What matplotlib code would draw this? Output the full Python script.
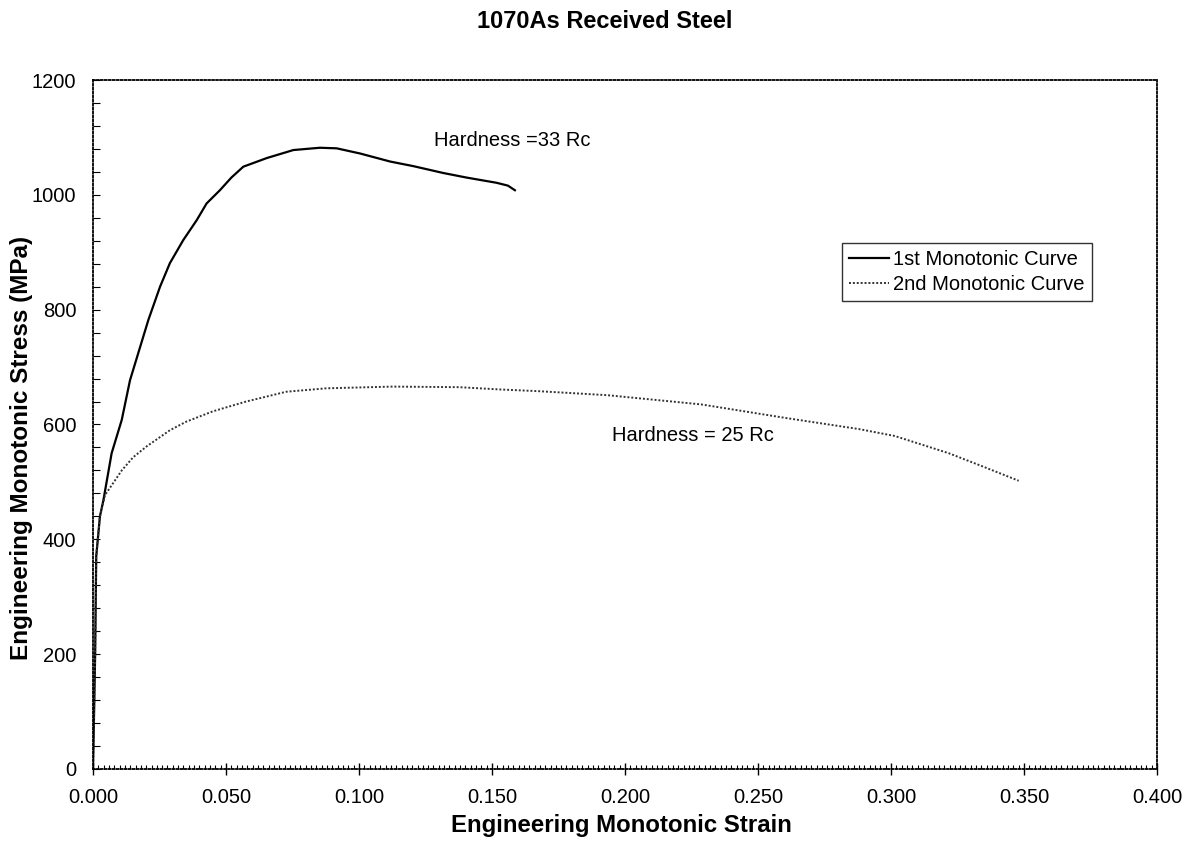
import matplotlib
matplotlib.use("Agg")
import matplotlib.pyplot as plt
from matplotlib.ticker import MultipleLocator, FormatStrFormatter

plt.rcParams["font.family"] = ["Liberation Sans", "DejaVu Sans"]

# 1st monotonic curve (Hardness = 33 Rc)
strain_1 = [0.0, 0.0008, 0.0012, 0.0026, 0.0039, 0.0070, 0.0108, 0.0139, 0.0208,
            0.0252, 0.0289, 0.0339, 0.0390, 0.0427, 0.0477, 0.0520, 0.0565, 0.0653,
            0.0753, 0.0853, 0.0916, 0.1004, 0.1117, 0.1204, 0.1317, 0.1405,
            0.1517, 0.1560, 0.1586]
stress_1 = [0, 200, 370, 440, 468, 550, 608, 677, 782,
            840, 881, 921, 956, 985, 1008, 1030, 1049, 1064,
            1078, 1082, 1081, 1072, 1058, 1050, 1038, 1030,
            1021, 1016, 1008]

# 2nd monotonic curve (Hardness = 25 Rc)
strain_2 = [0.0, 0.0008, 0.0012, 0.0026, 0.0045, 0.0108, 0.0151, 0.0202, 0.0289,
            0.0351, 0.0451, 0.0576, 0.0726, 0.0876, 0.1126, 0.1376, 0.1530,
            0.1676, 0.1935, 0.2286, 0.2609, 0.2880, 0.3014, 0.3217, 0.3350,
            0.3480]
stress_2 = [0, 200, 370, 440, 477, 520, 543, 562, 590,
            605, 623, 640, 657, 663, 666, 665, 661,
            658, 651, 635, 611, 592, 580, 550, 526,
            502]

labels = ["1st Monotonic Curve", "2nd Monotonic Curve"]

fig = plt.figure(figsize=(11.88, 8.43), dpi=100)
ax = fig.add_axes([0.0783, 0.0878, 0.8956, 0.8173])

ax.plot(strain_1, stress_1, color="black", lw=1.6, label=labels[0])
ax.plot(strain_2, stress_2, color="#333333", lw=1.4, linestyle=(0, (1, 1)),
        label=labels[1])

ax.set_xlim(0, 0.4)
ax.set_ylim(0, 1200)
ax.xaxis.set_major_locator(MultipleLocator(0.05))
ax.xaxis.set_minor_locator(MultipleLocator(0.002))
ax.xaxis.set_major_formatter(FormatStrFormatter("%.3f"))
ax.yaxis.set_major_locator(MultipleLocator(200))
ax.yaxis.set_minor_locator(MultipleLocator(40))

ax.tick_params(axis="x", which="major", direction="inout", length=9, width=1,
               labelsize=14.5, pad=9)
ax.tick_params(axis="x", which="minor", direction="in", length=3, width=0.8)
ax.tick_params(axis="y", which="both", direction="in", length=5, width=0.8,
               labelsize=14.5, pad=12)

for s in ax.spines.values():
    s.set_linestyle((0, (1, 1.2)))
    s.set_linewidth(1.3)

ax.set_xlabel("Engineering Monotonic Strain", fontsize=17.3, fontweight="bold")
ax.xaxis.set_label_coords(0.497, -0.066)
ax.set_ylabel("Engineering Monotonic Stress (MPa)", fontsize=17.5, fontweight="bold")
ax.yaxis.set_label_coords(-0.056, 0.466)

fig.text(0.509, 0.974, "1070As Received Steel", ha="center", va="center",
         fontsize=17, fontweight="bold")

ax.text(0.1282, 1095, "Hardness =33 Rc", fontsize=14.5, va="center", ha="left")
ax.text(0.1951, 580, "Hardness = 25 Rc", fontsize=14.5, va="center", ha="left")

leg = ax.legend(loc="upper left", bbox_to_anchor=(0.704, 0.763), fontsize=14.5,
                frameon=True, fancybox=False, handlelength=2.0, handletextpad=0.2,
                borderpad=0.35, labelspacing=0.3, borderaxespad=0)
leg.get_frame().set_edgecolor("black")
leg.get_frame().set_linewidth(1.0)

fig.savefig("out.png", dpi=100)
